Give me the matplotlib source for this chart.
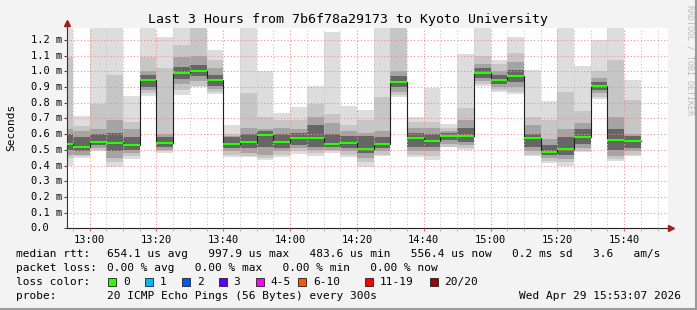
import matplotlib
matplotlib.use('Agg')
import matplotlib.pyplot as plt
import matplotlib.transforms as mtransforms
from matplotlib.lines import Line2D
from matplotlib.patches import Rectangle
import numpy as np

###########################################################################
# data (milliseconds), one 5 minute slot per entry

slotStart = ['12:50', '12:55', '13:00', '13:05', '13:10', '13:15', '13:20', '13:25', '13:30',
             '13:35', '13:40', '13:45', '13:50', '13:55', '14:00', '14:05', '14:10', '14:15',
             '14:20', '14:25', '14:30', '14:35', '14:40', '14:45', '14:50', '14:55', '15:00',
             '15:05', '15:10', '15:15', '15:20', '15:25', '15:30', '15:35', '15:40']
medianRtt = [0.537, 0.520, 0.550, 0.544, 0.531, 0.945, 0.544, 0.990, 1.000, 0.945, 0.537, 0.548,
             0.594, 0.550, 0.577, 0.577, 0.537, 0.545, 0.505, 0.537, 0.934, 0.577, 0.558, 0.588,
             0.588, 0.990, 0.945, 0.970, 0.577, 0.486, 0.507, 0.584, 0.906, 0.563, 0.558]
# outer smoke (min / max ping)
pingMin = [0.40, 0.45, 0.49, 0.39, 0.444, 0.843, 0.478, 0.85, 0.898, 0.856, 0.456, 0.452, 0.435,
           0.452, 0.473, 0.463, 0.478, 0.456, 0.393, 0.461, 0.839, 0.456, 0.435, 0.516, 0.499,
           0.906, 0.87, 0.853, 0.461, 0.414, 0.40, 0.484, 0.822, 0.431, 0.463]
pingMax = [1.30, 0.715, 1.30, 1.30, 0.843, 1.30, 1.22, 1.30, 1.30, 1.136, 0.658, 1.30, 1.00,
           0.737, 0.775, 0.906, 1.25, 0.779, 0.754, 1.30, 1.30, 0.707, 0.896, 0.665, 1.11,
           1.30, 1.07, 1.22, 1.01, 0.81, 1.30, 1.034, 1.20, 1.30, 0.945]
# second smoke band
band2Lo = [0.45, 0.46, 0.50, 0.42, 0.46, 0.86, 0.49, 0.88, 0.91, 0.87, 0.47, 0.46, 0.45, 0.47,
           0.49, 0.48, 0.49, 0.47, 0.42, 0.47, 0.85, 0.47, 0.46, 0.52, 0.51, 0.92, 0.88, 0.87,
           0.47, 0.43, 0.42, 0.49, 0.84, 0.44, 0.47]
band2Hi = [1.09, 0.65, 0.79, 0.98, 0.68, 1.09, 1.02, 1.17, 1.30, 1.07, 0.60, 0.86, 0.71, 0.69,
           0.69, 0.79, 0.73, 0.66, 0.69, 0.84, 1.30, 0.68, 0.68, 0.64, 0.77, 1.10, 1.05, 1.12,
           0.71, 0.69, 0.87, 0.75, 1.00, 1.07, 0.82]
# third smoke band
band3Lo = [0.47, 0.47, 0.51, 0.45, 0.48, 0.88, 0.50, 0.92, 0.94, 0.89, 0.49, 0.48, 0.47, 0.49,
           0.51, 0.50, 0.50, 0.49, 0.45, 0.49, 0.87, 0.49, 0.49, 0.54, 0.53, 0.94, 0.90, 0.90,
           0.49, 0.45, 0.44, 0.51, 0.86, 0.46, 0.49]
band3Hi = [0.63, 0.62, 0.63, 0.69, 0.63, 1.00, 0.60, 1.09, 1.10, 1.02, 0.59, 0.64, 0.63, 0.64,
           0.63, 0.71, 0.67, 0.62, 0.61, 0.62, 1.00, 0.64, 0.64, 0.62, 0.69, 1.05, 1.00, 1.06,
           0.66, 0.57, 0.63, 0.67, 0.96, 0.71, 0.60]
# inner (darkest) smoke band
band4Lo = [0.50, 0.49, 0.53, 0.49, 0.50, 0.90, 0.52, 0.95, 0.97, 0.91, 0.51, 0.51, 0.52, 0.51,
           0.53, 0.52, 0.52, 0.51, 0.48, 0.51, 0.90, 0.52, 0.52, 0.56, 0.55, 0.96, 0.92, 0.93,
           0.52, 0.47, 0.47, 0.54, 0.88, 0.50, 0.51]
band4Hi = [0.60, 0.58, 0.60, 0.61, 0.58, 0.98, 0.58, 1.03, 1.04, 0.98, 0.58, 0.60, 0.62, 0.60,
           0.61, 0.66, 0.60, 0.59, 0.59, 0.58, 0.97, 0.61, 0.60, 0.61, 0.64, 1.02, 0.98, 1.01,
           0.60, 0.53, 0.58, 0.63, 0.93, 0.63, 0.59]

xTickLabels = ['13:00', '13:20', '13:40', '14:00', '14:20', '14:40', '15:00', '15:20', '15:40']
yTickLabels = ['0.0', '0.1 m', '0.2 m', '0.3 m', '0.4 m', '0.5 m', '0.6 m', '0.7 m', '0.8 m',
               '0.9 m', '1.0 m', '1.1 m', '1.2 m']
lossNames = ['0', '1', '2', '3', '4-5', '6-10', '11-19', '20/20']
lossColors = ['#26ff00', '#00b8ff', '#0059ff', '#5e00ff', '#ff00ff', '#ff5500', '#ff0000', '#a10000']

###########################################################################
# figure

W, H = 697, 310
mono = 'DejaVu Sans Mono'
fig = plt.figure(figsize=(W / 100, H / 100), dpi=100, facecolor='#f3f3f3')

def fx(px):
    return px / W

def fy(py):
    return 1 - py / H

axL, axR, axT, axB = 66.7, 668.0, 27.5, 228.3
ax = fig.add_axes([fx(axL), fy(axB), fx(axR - axL), (axB - axT) / H])
ax.set_facecolor('white')

# minutes relative to 13:00
def toMin(s):
    h, m = s.split(':')
    return (int(h) - 13) * 60 + int(m)

starts = np.array([toMin(s) for s in slotStart], dtype=float)
med = np.array(medianRtt)

bands = [(pingMin, pingMax, '#dddddd'), (band2Lo, band2Hi, '#c6c6c6'),
         (band3Lo, band3Hi, '#a4a4a4'), (band4Lo, band4Hi, '#666666')]
for lo, hi, col in bands:
    lo = np.array(lo)
    hi = np.array(hi)
    ax.bar(starts, hi - lo, bottom=lo, width=5, align='edge', color=col, linewidth=0, zorder=1)

edges = np.append(starts, starts[-1] + 5)
ax.step(edges, np.append(med, med[-1]), where='post', color='#202020', lw=0.8, zorder=3)
ax.hlines(med, starts, starts + 5, color=lossColors[0], lw=1.5, zorder=4)

ax.set_xlim(-6.88, 173.12)
ax.set_ylim(0, 1.28)

# grid
ax.set_xticks(np.arange(0, 161, 20))
ax.set_xticks(np.arange(-5, 171, 5), minor=True)
ax.set_yticks(np.arange(0, 1.21, 0.1))
ax.set_axisbelow(False)
ax.grid(True, which='minor', axis='x', color='#c8c8c8', lw=0.8, ls=(0, (1, 2)))
ax.grid(True, which='major', axis='x', color='#f09090', lw=0.8, ls=(0, (1, 2)))
ax.grid(True, which='major', axis='y', color='#f09090', lw=0.8, ls=(0, (1, 2)))

ax.set_xticklabels(xTickLabels, fontsize=7.5, family=mono)
ax.tick_params(axis='x', which='major', length=2.5, color='#e06060', pad=2)
ax.tick_params(axis='x', which='minor', length=2, color='#aaaaaa')
ax.tick_params(axis='y', length=2.5, color='#444444', labelleft=False)

trans = mtransforms.blended_transform_factory(fig.transFigure, ax.transData)
for v, lab in zip(np.arange(0, 1.21, 0.1), yTickLabels):
    ax.text(fx(30.5), v, lab, transform=trans, fontsize=7.5, family=mono, ha='left', va='center')

for side in ['top', 'right']:
    ax.spines[side].set_visible(False)
ax.spines['left'].set_color('#333333')
ax.spines['bottom'].set_color('#222222')

# axis arrows
fig.add_artist(Line2D([fx(axL), fx(axL)], [fy(axT), fy(24)], color='#333333', lw=0.8))
fig.add_artist(Line2D([fx(axL)], [fy(23)], marker='^', ms=4, color='#a02020', lw=0))
fig.add_artist(Line2D([fx(axR), fx(670)], [fy(axB), fy(axB)], color='#222222', lw=0.8))
fig.add_artist(Line2D([fx(671)], [fy(axB)], marker='>', ms=4, color='#a02020', lw=0))

# titles
fig.text(fx(348), fy(19), 'Last 3 Hours from 7b6f78a29173 to Kyoto University',
         fontsize=9.5, family=mono, ha='center', va='center')
fig.text(fx(11), fy(127.5), 'Seconds', rotation=90, fontsize=8, family=mono, ha='center', va='center')
fig.text(fx(690), fy(60), 'RRDTOOL / TOBI OETIKER', rotation=270, fontsize=6, family=mono,
         color='#bbbbbb', ha='center', va='center')

# legend
valX = 107.3
fig.text(fx(16), fy(254), 'median rtt:', fontsize=8, family=mono, va='center')
fig.text(fx(valX), fy(254),
         '654.1 us avg   997.9 us max   483.6 us min   556.4 us now   0.2 ms sd   3.6   am/s',
         fontsize=8, family=mono, va='center')
fig.text(fx(16), fy(268), 'packet loss:', fontsize=8, family=mono, va='center')
fig.text(fx(valX), fy(268), '0.00 % avg   0.00 % max   0.00 % min   0.00 % now',
         fontsize=8, family=mono, va='center')
fig.text(fx(16), fy(282), 'loss color:', fontsize=8, family=mono, va='center')
boxX = [108.3, 145.3, 182.3, 219.0, 256.0, 298.3, 365.0, 430.0]
for bx, name, col in zip(boxX, lossNames, lossColors):
    fig.add_artist(Rectangle((fx(bx), fy(285.5)), 7.5 / W, 8 / H, facecolor=col,
                             edgecolor='#202020', lw=0.6))
    fig.text(fx(bx + 14.5), fy(282), name, fontsize=8, family=mono, va='center')
fig.text(fx(16), fy(296.3), 'probe:', fontsize=8, family=mono, va='center')
fig.text(fx(valX), fy(296.3), '20 ICMP Echo Pings (56 Bytes) every 300s',
         fontsize=8, family=mono, va='center')
fig.text(fx(681), fy(296.3), 'Wed Apr 29 15:53:07 2026', fontsize=8, family=mono,
         ha='right', va='center')

# frame edges
fig.add_artist(Line2D([fx(0), fx(W)], [fy(309), fy(309)], color='#9a9a9a', lw=1.5))
fig.add_artist(Line2D([fx(696), fx(696)], [fy(0), fy(H)], color='#9a9a9a', lw=1.5))

fig.savefig('out.png', dpi=100, facecolor=fig.get_facecolor())
